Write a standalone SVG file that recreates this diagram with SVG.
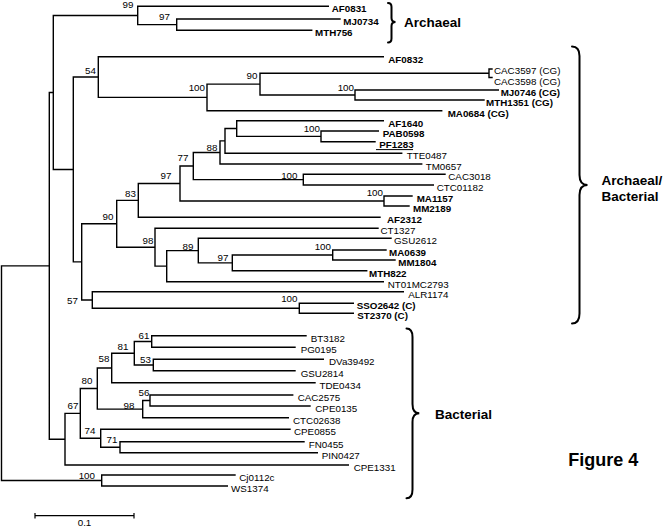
<svg xmlns="http://www.w3.org/2000/svg" width="664" height="526" viewBox="0 0 664 526">
<style>
.e{stroke:#000;stroke-width:1.4;fill:none;stroke-linecap:square}
.br{stroke:#000;stroke-width:2;fill:none;stroke-linecap:round}
text{font-family:"Liberation Sans",Arial,sans-serif;font-size:9.8px;fill:#000}
.b{font-weight:bold}
.bs{text-anchor:end}
.g{font-weight:bold;font-size:13.5px}
</style>
<rect width="664" height="526" fill="#fff"/>
<g id="connectors">
<path class="e" d="M1.5 265.85V480.5M1.5 265.85H49.3M1.5 480.5H101.7
M49.3 92.5V439.2M49.3 92.5H53.3M49.3 439.2H65
M53.3 15.5V169.5M53.3 15.5H137.7M53.3 169.5H73.3
M137.7 6.3V24.65M137.7 6.3H328.3M137.7 24.65H176.7
M176.7 19V30.3M176.7 19H340M176.7 30.3H311.7
M73.3 77.05V261.9M73.3 77.05H98.3M73.3 261.9H81.7
M98.3 56.7V97.4M98.3 56.7H383.3M98.3 97.4H207
M207 84.1V110.7M207 84.1H260M207 110.7H441.7
M260 73.25V95M260 73.25H489M260 95H355
M489 69V77.5M489 69H492M489 77.5H492
M355 90V100M355 90H498.3M355 100H484
M81.7 223.8V300M81.7 223.8H116.7M81.7 300H92.3
M116.7 200.4V247.2M116.7 200.4H138.3M116.7 247.2H155
M138.3 183.5V217.3M138.3 183.5H180M138.3 217.3H380
M180 166.05V201M180 166.05H193.3M180 201H384
M193.3 152.45V179.65M193.3 152.45H220M193.3 179.65H303.3
M220 140.9V164M220 140.9H225M220 164H421.7
M225 128.5V153.3M225 128.5H236.7M225 153.3H401.7
M236.7 120.7V136.35M236.7 120.7H383.3M236.7 136.35H321
M321 131V141.7M321 131H378.3M321 141.7H375
M303.3 174.3V185M303.3 174.3H445M303.3 185H433.3
M384 196V206M384 196H412M384 206H409
M155 228.3V266.15M155 228.3H378M155 266.15H166.7
M166.7 250.6V281.7M166.7 250.6H198.3M166.7 281.7H383.3
M198.3 238.3V262.85M198.3 238.3H391M198.3 262.85H232.3
M232.3 255V270.7M232.3 255H332.7M232.3 270.7H366.7
M332.7 250V260M332.7 250H386M332.7 260H395
M92.3 291.7V308.3M92.3 291.7H403.3M92.3 308.3H299.3
M299.3 303.3V313.3M299.3 303.3H353.3M299.3 313.3H353.3
M65 413.4V465M65 413.4H80.3M65 465H348.3
M80.3 388.55V438.25M80.3 388.55H97.3M80.3 438.25H100.7
M97.3 368V409.1M97.3 368H111.7M97.3 409.1H142.7
M111.7 353.25V382.7M111.7 353.25H134.3M111.7 382.7H315
M134.3 341.5V365M134.3 341.5H151.7M134.3 365H153.3
M151.7 335.7V347.3M151.7 335.7H306M151.7 347.3H295
M153.3 359.3V370.7M153.3 359.3H323.3M153.3 370.7H295
M142.7 400.5V417.7M142.7 400.5H150M142.7 417.7H288.3
M150 395V406M150 395H292.7M150 406H310
M100.7 429.3V447.2M100.7 429.3H290M100.7 447.2H120
M120 441.7V452.7M120 441.7H304M120 452.7H317.3
M101.7 475V486M101.7 475H235M101.7 486H227.3"/>
</g>
<g id="bootstrap">
<text class="bs" x="133.5" y="7.5">99</text>
<text class="bs" x="170" y="19.5">97</text>
<text class="bs" x="96" y="73.5">54</text>
<text class="bs" x="205" y="90.5">100</text>
<text class="bs" x="257.5" y="78.5">90</text>
<text class="bs" x="354" y="91.2">100</text>
<text class="bs" x="320" y="131.8">100</text>
<text class="bs" x="217.5" y="150.5">88</text>
<text class="bs" x="188.5" y="161">77</text>
<text class="bs" x="171.5" y="178.5">97</text>
<text class="bs" x="297.5" y="178.5">100</text>
<text class="bs" x="383" y="196.2">100</text>
<text class="bs" x="136" y="196.8">83</text>
<text class="bs" x="113.5" y="220.2">90</text>
<text class="bs" x="153.5" y="243.5">98</text>
<text class="bs" x="193.5" y="249.5">89</text>
<text class="bs" x="331" y="249.5">100</text>
<text class="bs" x="228.5" y="261.2">97</text>
<text class="bs" x="78" y="304">57</text>
<text class="bs" x="297.5" y="301.8">100</text>
<text class="bs" x="149.5" y="338.5">61</text>
<text class="bs" x="128.5" y="350.2">81</text>
<text class="bs" x="151" y="362.8">53</text>
<text class="bs" x="109.5" y="361.8">58</text>
<text class="bs" x="92.5" y="383.5">80</text>
<text class="bs" x="149.5" y="396.2">56</text>
<text class="bs" x="134.5" y="408.5">98</text>
<text class="bs" x="78.5" y="408.5">67</text>
<text class="bs" x="95.5" y="433.5">74</text>
<text class="bs" x="117.5" y="442.8">71</text>
<text class="bs" x="95" y="478.5">100</text>
</g>
<g id="n-AF0831"><text class="b" x="331.7" y="12.3">AF0831</text></g>
<g id="n-MJ0734"><text class="b" x="343.3" y="25">MJ0734</text></g>
<g id="n-MTH756"><text class="b" x="315" y="36.3">MTH756</text></g>
<g id="n-AF0832"><text class="b" x="388.3" y="62.7">AF0832</text></g>
<g id="n-CAC3597"><text x="494" y="74.2">CAC3597 (CG)</text></g>
<g id="n-CAC3598"><text x="494" y="84.8">CAC3598 (CG)</text></g>
<g id="n-MJ0746"><text class="b" x="500.7" y="96">MJ0746 (CG)</text></g>
<g id="n-MTH1351"><text class="b" x="486" y="106">MTH1351 (CG)</text></g>
<g id="n-MA0684"><text class="b" x="447.7" y="116.7">MA0684 (CG)</text></g>
<g id="n-AF1640"><text class="b" x="388.3" y="126.7">AF1640</text></g>
<g id="n-PAB0598"><text class="b" x="382.7" y="137">PAB0598</text></g>
<g id="n-PF1283"><text class="b" x="379.3" y="147.7">PF1283</text><path d="M376 149.6H413" stroke="#000" stroke-width="1"/></g>
<g id="n-TTE0487"><text x="406.7" y="159.3">TTE0487</text></g>
<g id="n-TM0657"><text x="425.7" y="170">TM0657</text></g>
<g id="n-CAC3018"><text x="448.3" y="180.3">CAC3018</text></g>
<g id="n-CTC01182"><text x="436.7" y="191">CTC01182</text></g>
<g id="n-MA1157"><text class="b" x="416.7" y="202">MA1157</text></g>
<g id="n-MM2189"><text class="b" x="413" y="212">MM2189</text></g>
<g id="n-AF2312"><text class="b" x="387" y="223.3">AF2312</text></g>
<g id="n-CT1327"><text x="380.5" y="234.3">CT1327</text></g>
<g id="n-GSU2612"><text x="394" y="244.3">GSU2612</text></g>
<g id="n-MA0639"><text class="b" x="389" y="256">MA0639</text></g>
<g id="n-MM1804"><text class="b" x="398.3" y="266">MM1804</text></g>
<g id="n-MTH822"><text class="b" x="369" y="276.7">MTH822</text></g>
<g id="n-NT01MC2793"><text x="387.7" y="287.7">NT01MC2793</text></g>
<g id="n-ALR1174"><text x="408.3" y="297.7">ALR1174</text></g>
<g id="n-SSO2642"><text class="b" x="356.7" y="309.3">SSO2642 (C)</text></g>
<g id="n-ST2370"><text class="b" x="357.3" y="319.3">ST2370 (C)</text></g>
<g id="n-BT3182"><text x="310.7" y="341.7">BT3182</text></g>
<g id="n-PG0195"><text x="300.7" y="353.3">PG0195</text></g>
<g id="n-DVa39492"><text x="329" y="365.3">DVa39492</text></g>
<g id="n-GSU2814"><text x="300.7" y="376.7">GSU2814</text></g>
<g id="n-TDE0434"><text x="319.5" y="388.7">TDE0434</text></g>
<g id="n-CAC2575"><text x="297.7" y="401">CAC2575</text></g>
<g id="n-CPE0135"><text x="315.3" y="412">CPE0135</text></g>
<g id="n-CTC02638"><text x="293" y="423.7">CTC02638</text></g>
<g id="n-CPE0855"><text x="294" y="435.3">CPE0855</text></g>
<g id="n-FN0455"><text x="308.7" y="447.7">FN0455</text></g>
<g id="n-PIN0427"><text x="321.7" y="458.7">PIN0427</text></g>
<g id="n-CPE1331"><text x="353.7" y="471">CPE1331</text></g>
<g id="n-Cj0112c"><text x="239.3" y="481">Cj0112c</text></g>
<g id="n-WS1374"><text x="231" y="492">WS1374</text></g>
<g id="group-archaeal">
<path class="br" d="M388 3Q391.5 3 391.5 7V18Q391.5 22 395.5 22Q391.5 22 391.5 26V38.5Q391.5 42.5 388 42.5"/>
<text class="g" x="404" y="26.5">Archaeal</text>
</g>
<g id="group-archaeal-bacterial">
<path class="br" d="M572 46.5Q579.5 46.5 579.5 56V175Q579.5 185 587.5 185Q579.5 185 579.5 195V313.5Q579.5 323.5 572 323.5"/>
<text class="g" x="601.5" y="185">Archaeal/</text>
<text class="g" x="601.5" y="201">Bacterial</text>
</g>
<g id="group-bacterial">
<path class="br" d="M406.5 328.5Q412.5 328.5 412.5 337V404Q412.5 413.3 419.3 413.3Q412.5 413.3 412.5 422V489.5Q412.5 498.3 406.5 498.3"/>
<text class="g" x="435" y="419">Bacterial</text>
</g>
<g id="scale">
<path class="e" d="M35 515.7H134M35 513V518.5M134 513V518.5" style="stroke-width:1.2;stroke-linecap:butt"/>
<text x="84.5" y="525.5" text-anchor="middle">0.1</text>
</g>
<g id="title"><text x="568.3" y="465.5" style="font-weight:bold;font-size:18px">Figure 4</text></g>
</svg>
